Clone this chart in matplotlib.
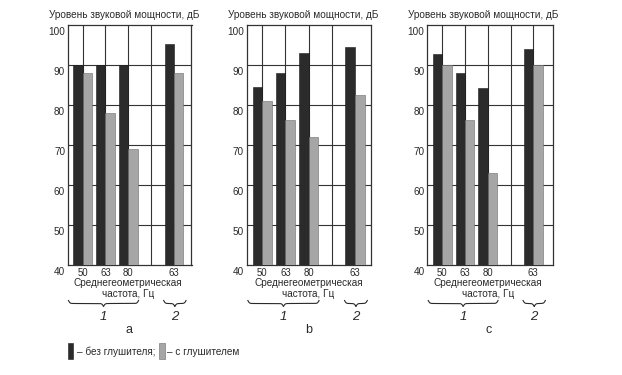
import numpy as np
import matplotlib
matplotlib.use("Agg")
import matplotlib.pyplot as plt
from matplotlib.patches import Rectangle
from matplotlib.transforms import ScaledTranslation

plt.rcParams["font.family"] = ["Liberation Sans", "DejaVu Sans"]

# data
freq_labels = ["50", "63", "80", "63"]
x_pos = [0, 1, 2, 4]
panel_names = ["a", "b", "c"]
no_muffler = [
    [90, 90, 90, 95.3],
    [84.4, 88, 93, 94.4],
    [92.8, 88, 84.2, 94.1],
]
with_muffler = [
    [88, 78, 69, 88],
    [81, 76.2, 72.1, 82.5],
    [90, 76.2, 63, 90],
]

W, H = 622, 375
dpi = 100
DARK = "#2b2b2b"
GRAY = "#a6a6a6"
LINE = "#333333"
TXT = "#2a2a2a"
fs = 7.2

# axes frames in pixels: left, right, xlim
frames = [
    (68.0, 191.5, (-0.64, 4.77)),
    (246.7, 371.0, (-0.67, 4.69)),
    (427.3, 553.3, (-0.66, 4.88)),
]
top_px, bot_px = 25.0, 265.0

fig = plt.figure(figsize=(W / dpi, H / dpi), dpi=dpi)
bw = 0.41


def brace(ax, x0, x1, y_top, h, beta=160.0):
    # horizontal curly brace pointing down, coords in axes fraction
    xl = ax.get_xlim()
    a0 = (x0 - xl[0]) / (xl[1] - xl[0])
    a1 = (x1 - xl[0]) / (xl[1] - xl[0])
    n = 201
    xs = np.linspace(a0, a1, n)
    half = xs[: n // 2 + 1]
    yh = 1 / (1 + np.exp(-beta * (half - half[0]))) + 1 / (1 + np.exp(-beta * (half - half[-1])))
    ys = np.concatenate([yh, yh[-2::-1]])
    ys = y_top - (ys - 0.5) * h
    ax.plot(xs, ys, color=TXT, lw=0.8, transform=ax.transAxes, clip_on=False)


for i in range(3):
    left, right, xlim = frames[i]
    ax = fig.add_axes([left / W, 1 - bot_px / H, (right - left) / W, (bot_px - top_px) / H])
    ax.set_xlim(*xlim)
    ax.set_ylim(40, 100)

    # grid
    for yv in range(50, 100, 10):
        ax.axhline(yv, color=LINE, lw=0.8, zorder=1)
    vl = [0, 1, 2, 3] + ([4] if i == 2 else [])
    for xv in vl:
        ax.axvline(xv, color=LINE, lw=0.8, zorder=1)

    xp = np.array(x_pos)
    ax.bar(xp - bw / 2, no_muffler[i], bw, color=DARK, edgecolor="#1a1a1a", lw=0.4, zorder=3)
    ax.bar(xp + bw / 2, with_muffler[i], bw, color=GRAY, edgecolor="#6a6a6a", lw=0.4, zorder=3)

    for s in ax.spines.values():
        s.set_color(LINE)
        s.set_linewidth(0.9)
    ax.set_yticks(range(40, 101, 10))
    ax.set_xticks(x_pos, freq_labels)
    ax.tick_params(length=0, labelsize=fs, colors=TXT)
    ax.tick_params(axis="y", pad=2)
    ax.tick_params(axis="x", pad=2, labelsize=6.9)
    off = ScaledTranslation(0, -4 / 72, fig.dpi_scale_trans)
    for lbl in ax.get_yticklabels():
        lbl.set_transform(lbl.get_transform() + off)

    # title
    fig.text((left - 19) / W, 1 - 15 / H, "Уровень звуковой мощности, дБ",
             ha="left", va="center", fontsize=fs, color=TXT)

    def ay(px):
        return (bot_px - px) / (bot_px - top_px)

    ax.text(2.0, ay(283), "Среднегеометрическая", transform=ax.get_xaxis_transform(),
            ha="center", va="center", fontsize=fs, color=TXT)
    ax.text(2.0, ay(294), "частота, Гц", transform=ax.get_xaxis_transform(),
            ha="center", va="center", fontsize=fs, color=TXT)

    brace(ax, -0.62, 2.45, ay(300.5), ay(300.5) - ay(306.5))
    brace(ax, 3.55, 4.53, ay(300.5), ay(300.5) - ay(306.5))
    ax.text(0.92, ay(317), "1", transform=ax.get_xaxis_transform(), ha="center", va="center",
            fontsize=9.5, style="italic", color=TXT)
    ax.text(4.04, ay(317), "2", transform=ax.get_xaxis_transform(), ha="center", va="center",
            fontsize=9.5, style="italic", color=TXT)
    ax.text(2.02, ay(330), panel_names[i], transform=ax.get_xaxis_transform(),
            ha="center", va="center", fontsize=9, color=TXT)

# legend
fig.add_artist(Rectangle((67.5 / W, 1 - 359 / H), 5 / W, 16 / H, transform=fig.transFigure,
                         facecolor=DARK, edgecolor="#1a1a1a", lw=0.4))
fig.text(77 / W, 1 - 352 / H, "– без глушителя;", ha="left", va="center", fontsize=fs, color=TXT)
fig.add_artist(Rectangle((159 / W, 1 - 359 / H), 5.5 / W, 16 / H, transform=fig.transFigure,
                         facecolor=GRAY, edgecolor="#6a6a6a", lw=0.4))
fig.text(167 / W, 1 - 352 / H, "– с глушителем", ha="left", va="center", fontsize=fs, color=TXT)

fig.savefig("out.png", dpi=dpi)
